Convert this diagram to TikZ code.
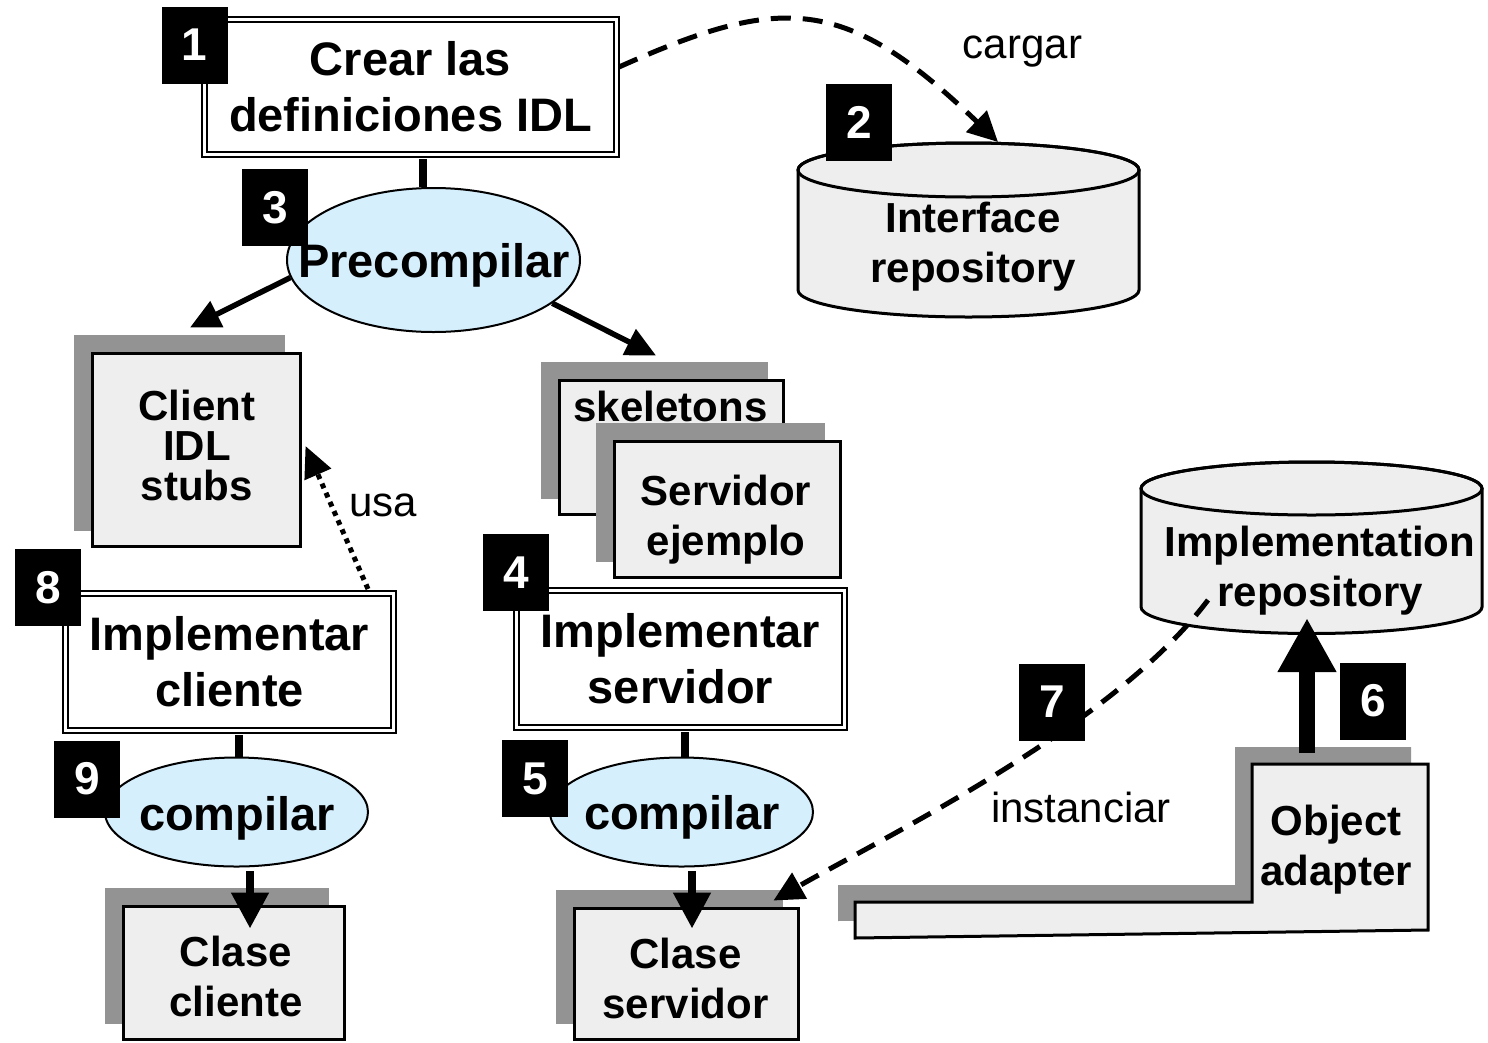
\documentclass[tikz,border=0pt]{standalone}
\usepackage{fontspec}
\setmainfont{Liberation Sans}
\usetikzlibrary{arrows.meta,shapes.geometric}

\definecolor{boxfill}{HTML}{EEEEEE}
\definecolor{shadowgray}{HTML}{939393}
\definecolor{procblue}{HTML}{D6EFFD}

\tikzset{
  bigfont/.style={font=\bfseries\fontsize{47}{56}\selectfont},
  midfont/.style={font=\bfseries\fontsize{42}{50}\selectfont},
  txt/.style={align=center, inner sep=0pt},
  taskbox/.style={draw, double, double distance=3pt, line width=2pt, fill=white,
    align=center, inner sep=0pt, bigfont},
  filebox/.style={draw, line width=3pt, fill=boxfill, inner sep=0pt,
    preaction={fill=shadowgray, draw=shadowgray, line width=3pt,
      transform canvas={shift={(-17pt,17pt)}}}},
  proc/.style={ellipse, draw, line width=2pt, fill=procblue, inner sep=0pt},
  badge/.style={fill=black, text=white, inner sep=0pt, minimum width=66pt,
    minimum height=77pt, font=\bfseries\fontsize{46}{46}\selectfont},
  stem/.style={line width=8pt},
  flow/.style={line width=5.5pt, -{Triangle[length=30pt,width=28pt]}},
  bigflow/.style={line width=8pt, -{Triangle[length=36pt,width=36pt]}},
  loadflow/.style={line width=5pt, dash pattern=on 20pt off 12pt,
    -{Triangle[length=30pt,width=29pt]}},
  useflow/.style={line width=5pt, dash pattern=on 5pt off 5pt,
    -{Triangle[length=31pt,width=28pt]}},
  regflow/.style={line width=16pt, -{Triangle[length=54pt,width=55pt]}},
  note/.style={inner sep=0pt, font=\fontsize{42}{50}\selectfont},
}

\begin{document}
\begin{tikzpicture}[x=1pt, y=-1pt]
\path[use as bounding box, fill=white] (0,0) rectangle (1488,1042);

% ---- Interface repository drum
\draw[line width=3pt, fill=boxfill] (798,170) -- (798,290)
  arc[start angle=180, end angle=360, x radius=170.5pt, y radius=27pt]
  -- (1139,170)
  arc[start angle=0, end angle=180, x radius=170.5pt, y radius=27pt] -- cycle;
\draw[line width=3pt] (968.5,170) ellipse[x radius=170.5pt, y radius=27pt];
\node[txt, midfont] (irep) at (973,247) {Interface\\repository};
\coordinate (irtop) at (998,142);

% ---- Implementation repository drum
\draw[line width=3pt, fill=boxfill] (1141,488.5) -- (1141,607)
  arc[start angle=180, end angle=360, x radius=170.5pt, y radius=26.5pt]
  -- (1482,488.5)
  arc[start angle=0, end angle=180, x radius=170.5pt, y radius=26.5pt] -- cycle;
\draw[line width=3pt] (1311.5,488.5) ellipse[x radius=170.5pt, y radius=26.5pt];
\node[txt, midfont] (imrep) at (1320,571) {Implementation\\repository};
\coordinate (imbase) at (1307,618);
\coordinate (imside) at (1208,600);

% ---- Object adapter (stepped block with its shadow)
\fill[shadowgray] (1235,747) -- (1411,747) -- (1411,913) -- (838,921)
  -- (838,885) -- (1235,885) -- cycle;
\draw[line width=3pt, fill=boxfill] (1252,764) -- (1428,764) -- (1428,930)
  -- (855,938) -- (855,902) -- (1252,902) -- cycle;
\node[txt, midfont] (oa) at (1336,850) {Object\\adapter};

% ---- task boxes
\node[taskbox, minimum width=412pt, minimum height=135pt] (crear) at (410.5,87)
  {Crear las\\definiciones IDL};
\node[taskbox, minimum width=328pt, minimum height=137pt] (impc) at (229.5,662)
  {Implementar\\cliente};
\node[taskbox, minimum width=328pt, minimum height=137pt] (imps) at (680.5,659)
  {Implementar\\servidor};

% ---- generated files
\node[filebox, minimum width=208pt, minimum height=193pt] (stubs) at (196.5,450) {};
\node[txt, font=\bfseries\fontsize{42}{40}\selectfont] (stubstxt) at (197,445)
  {Client\\IDL\\stubs};
\node[filebox, minimum width=224pt, minimum height=134pt] (skel) at (671.5,447.5) {};
\node[txt, midfont] (skeltxt) at (670.5,406.5) {skeletons};
\node[filebox, minimum width=226pt, minimum height=136pt] (serv) at (727.5,509.5) {};
\node[txt, midfont] (servtxt) at (726,520) {Servidor\\ejemplo};
\node[filebox, minimum width=221pt, minimum height=133pt] (cc) at (234,973) {};
\node[txt, font=\bfseries\fontsize{42}{50}\selectfont] (cctxt) at (236,976)
  {Clase\\cliente};
\node[filebox, minimum width=224pt, minimum height=131pt] (cs) at (686.5,974) {};
\node[txt, font=\bfseries\fontsize{42}{50}\selectfont] (cstxt) at (685.5,978)
  {Clase\\servidor};

% ---- processing steps
\node[proc, minimum width=293pt, minimum height=144pt] (pre) at (433.5,260) {};
\node[txt, bigfont] (pretxt) at (434,265) {Precompilar};
\node[proc, minimum width=263pt, minimum height=109pt] (comp9) at (236.5,812) {};
\node[txt, bigfont] (comp9txt) at (237,818) {compilar};
\node[proc, minimum width=263pt, minimum height=109pt] (comp5) at (681.5,812) {};
\node[txt, bigfont] (comp5txt) at (682,817) {compilar};

% ---- connectors
\draw[stem] ([shift={(12.5,3.5)}]crear.south) -- ([shift={(12.5,0)}]crear.south |- pre.north);
\draw[stem] ([shift={(9.5,3.5)}]impc.south) -- ([shift={(9.5,0)}]impc.south |- comp9.north);
\draw[stem] ([shift={(4,3.5)}]imps.south) -- ([shift={(4,0)}]imps.south |- comp5.north);

\draw[flow] (pre.187) -- ([shift={(-6.5,-24.5)}]stubs.north);
\draw[flow] (pre.-20) -- ([shift={(-15.5,-23.5)}]skel.north);

\draw[bigflow] ([shift={(13.5,3.5)}]comp9.south) -- ([shift={(16,23.5)}]cc.north);
\draw[bigflow] ([shift={(10.5,3.5)}]comp5.south) -- ([shift={(5.5,21.5)}]cs.north);

\draw[loadflow] ([shift={(1.5,-20)}]crear.east) .. controls (782,-6) and (845,-5) .. (irtop);
\node[note] (cargar) at (1022.5,52) {cargar};

\draw[useflow] ([shift={(138.5,-3.5)}]impc.north) -- ([shift={(3.5,-4)}]stubs.east);
\node[note] (usa) at (383.5,505) {usa};

\draw[loadflow] (imside) .. controls (1114,725) and (892.7,832.6) .. ([shift={(-26.5,-6.5)}]cs.north east);
\node[note] (inst) at (1081,807) {instanciar};

\draw[regflow] ([shift={(-29,-97)}]oa.center) -- (imbase);

% ---- step numbers
\node[badge] (b1) at (194.5,45) {1};
\node[badge] (b2) at (859,122) {2};
\node[badge] (b3) at (275,207.5) {3};
\node[badge] (b4) at (516,572.5) {4};
\node[badge] (b5) at (535,778.5) {5};
\node[badge] (b6) at (1373,701) {6};
\node[badge] (b7) at (1052,702) {7};
\node[badge] (b8) at (48,587.5) {8};
\node[badge] (b9) at (87,779) {9};
\end{tikzpicture}
\end{document}
